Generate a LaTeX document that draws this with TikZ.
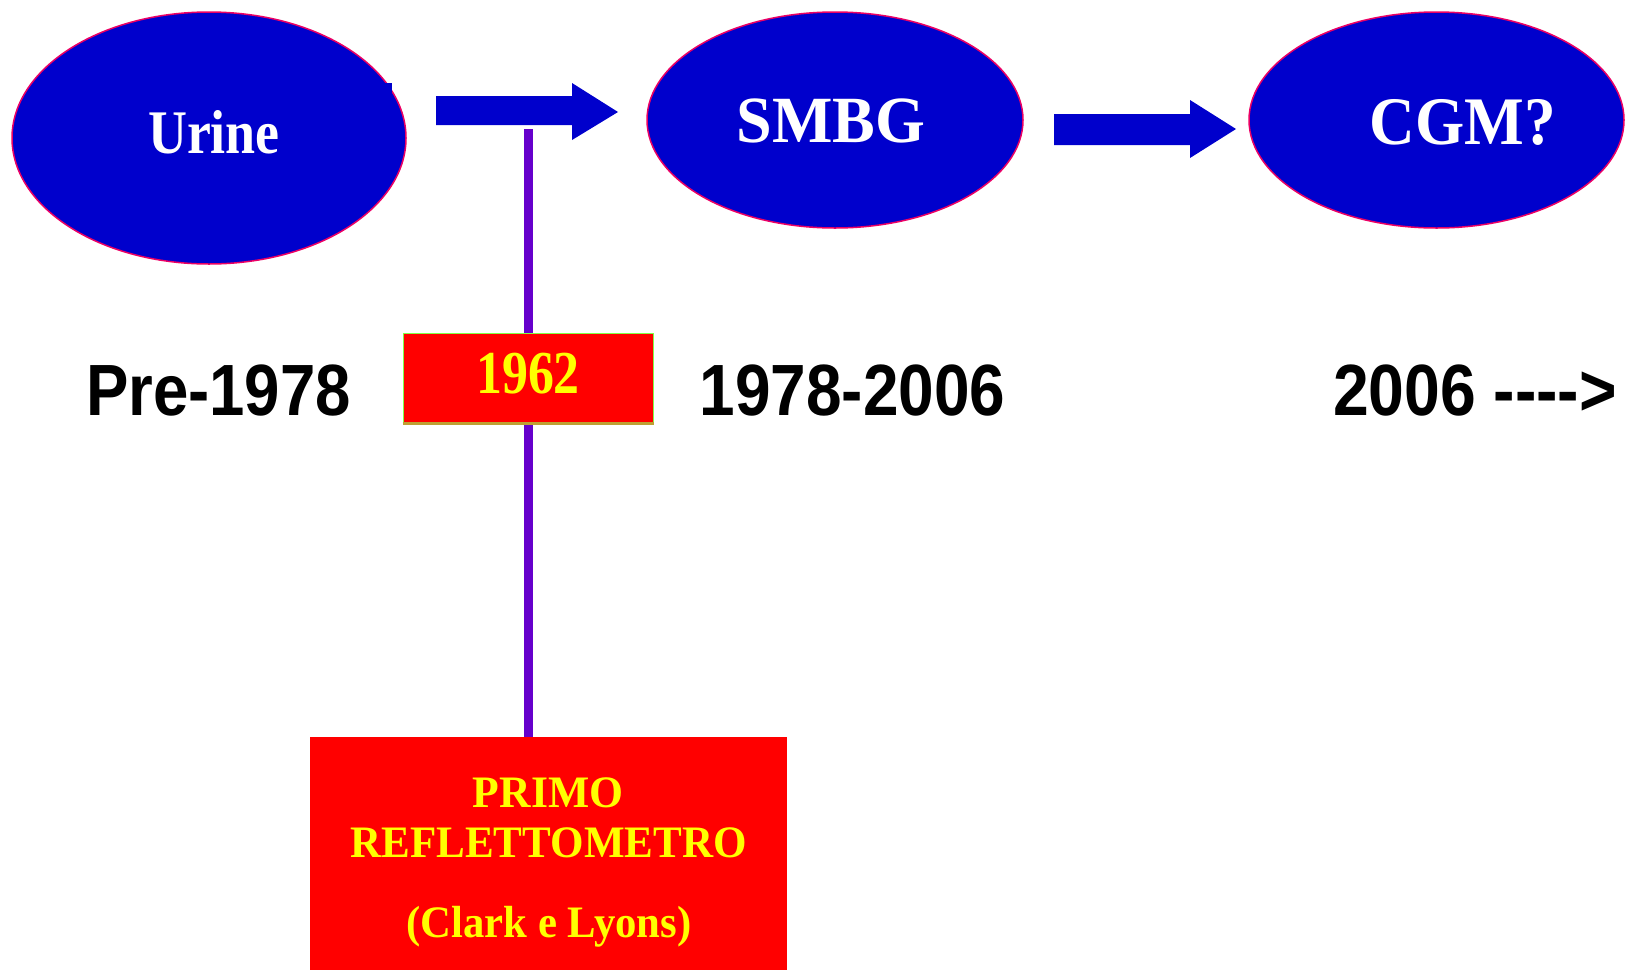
\documentclass[tikz,border=0pt]{standalone}
\usepackage{fontspec}
\setmainfont{Liberation Serif}
\newfontfamily\sansbold{Liberation Sans}
\usetikzlibrary{shapes.geometric}
\definecolor{ellblue}{RGB}{0,0,204}
\definecolor{ellrim}{RGB}{235,0,100}
\definecolor{linepurple}{RGB}{102,0,204}
\definecolor{boxred}{RGB}{255,0,0}
\definecolor{txtyellow}{RGB}{255,255,0}
\definecolor{rimgreen}{RGB}{130,255,70}
\definecolor{rimolive}{RGB}{190,160,50}
\tikzset{
  oval/.style={ellipse, fill=ellblue, draw=ellrim, line width=1.5pt, inner sep=0pt},
  ovaltext/.style={anchor=base, inner sep=0pt, text=white, font=\bfseries},
  yeartext/.style={anchor=base, inner sep=0pt, text=black, font=\sansbold\bfseries\fontsize{72.6}{80}\selectfont},
  redbox/.style={rectangle, fill=boxred, inner sep=0pt},
  boxtext/.style={anchor=base, inner sep=0pt, text=txtyellow, font=\bfseries\fontsize{45}{50}\selectfont},
  blockarrow/.style={fill=ellblue},
  timeline/.style={draw=linepurple, line width=9pt}
}
\begin{document}
\begin{tikzpicture}[x=1pt, y=-1pt]
\useasboundingbox (0,0) rectangle (1632,970);

% ellipses
\node[oval, minimum width=394pt, minimum height=252pt] (urine) at (209,138) {};
\node[oval, minimum width=376pt, minimum height=216pt] (smbg) at (835,120) {};
\node[oval, minimum width=375pt, minimum height=216pt] (cgm) at (1436.5,120) {};
\fill[ellblue] (384,83) rectangle (392,99);

\node[ovaltext, font=\bfseries\fontsize{62}{70}\selectfont] (turine) at (214,153) {\scalebox{0.87}[1]{Urine}};
\node[ovaltext, font=\bfseries\fontsize{66}{70}\selectfont] (tsmbg) at (831,142) {\scalebox{0.97}[1]{SMBG}};
\node[ovaltext, font=\bfseries\fontsize{68}{70}\selectfont] (tcgm) at (1463,144) {\scalebox{0.93}[1]{CGM?}};

% block arrows
\fill[blockarrow] (436,96) -- (572,96) -- (572,83) -- (618,112) -- (572,140) -- (572,125) -- (436,125) -- cycle;
\fill[blockarrow] (1054,114) -- (1190,114) -- (1190,100) -- (1236,129) -- (1190,158) -- (1190,145) -- (1054,145) -- cycle;

% timeline
\coordinate (tltop) at (528,129);
\node[redbox, minimum width=477pt, minimum height=233pt] (primo) at (548.5,853.5) {};
\draw[timeline] (tltop) -- (primo.north -| tltop);

\node[redbox, draw=rimgreen, line width=1.2pt, minimum width=250pt, minimum height=89pt] (y1962) at (528.5,378) {};
\draw[rimolive, line width=3pt] (y1962.south west) -- (y1962.south east);
\node[anchor=base, inner sep=0pt, text=txtyellow, font=\bfseries\fontsize{61}{66}\selectfont] (t1962) at (528,393) {\scalebox{0.85}[1]{1962}};

% year labels
\node[yeartext] (pre) at (218.5,415) {\scalebox{0.875}[1]{Pre-1978}};
\node[yeartext] (mid) at (852.5,415) {\scalebox{0.88}[1]{1978-2006}};
\node[yeartext] (post) at (1475,415) {\scalebox{0.885}[1]{2006 ---{}->}};

% bottom box texts
\node[boxtext] (l1) at (548,807) {\scalebox{0.97}[1]{PRIMO}};
\node[boxtext] (l2) at (548.5,857) {\scalebox{0.957}[1]{REFLETTOMETRO}};
\node[boxtext] (l3) at (549,937) {\scalebox{0.95}[1]{(Clark e Lyons)}};
\end{tikzpicture}
\end{document}
